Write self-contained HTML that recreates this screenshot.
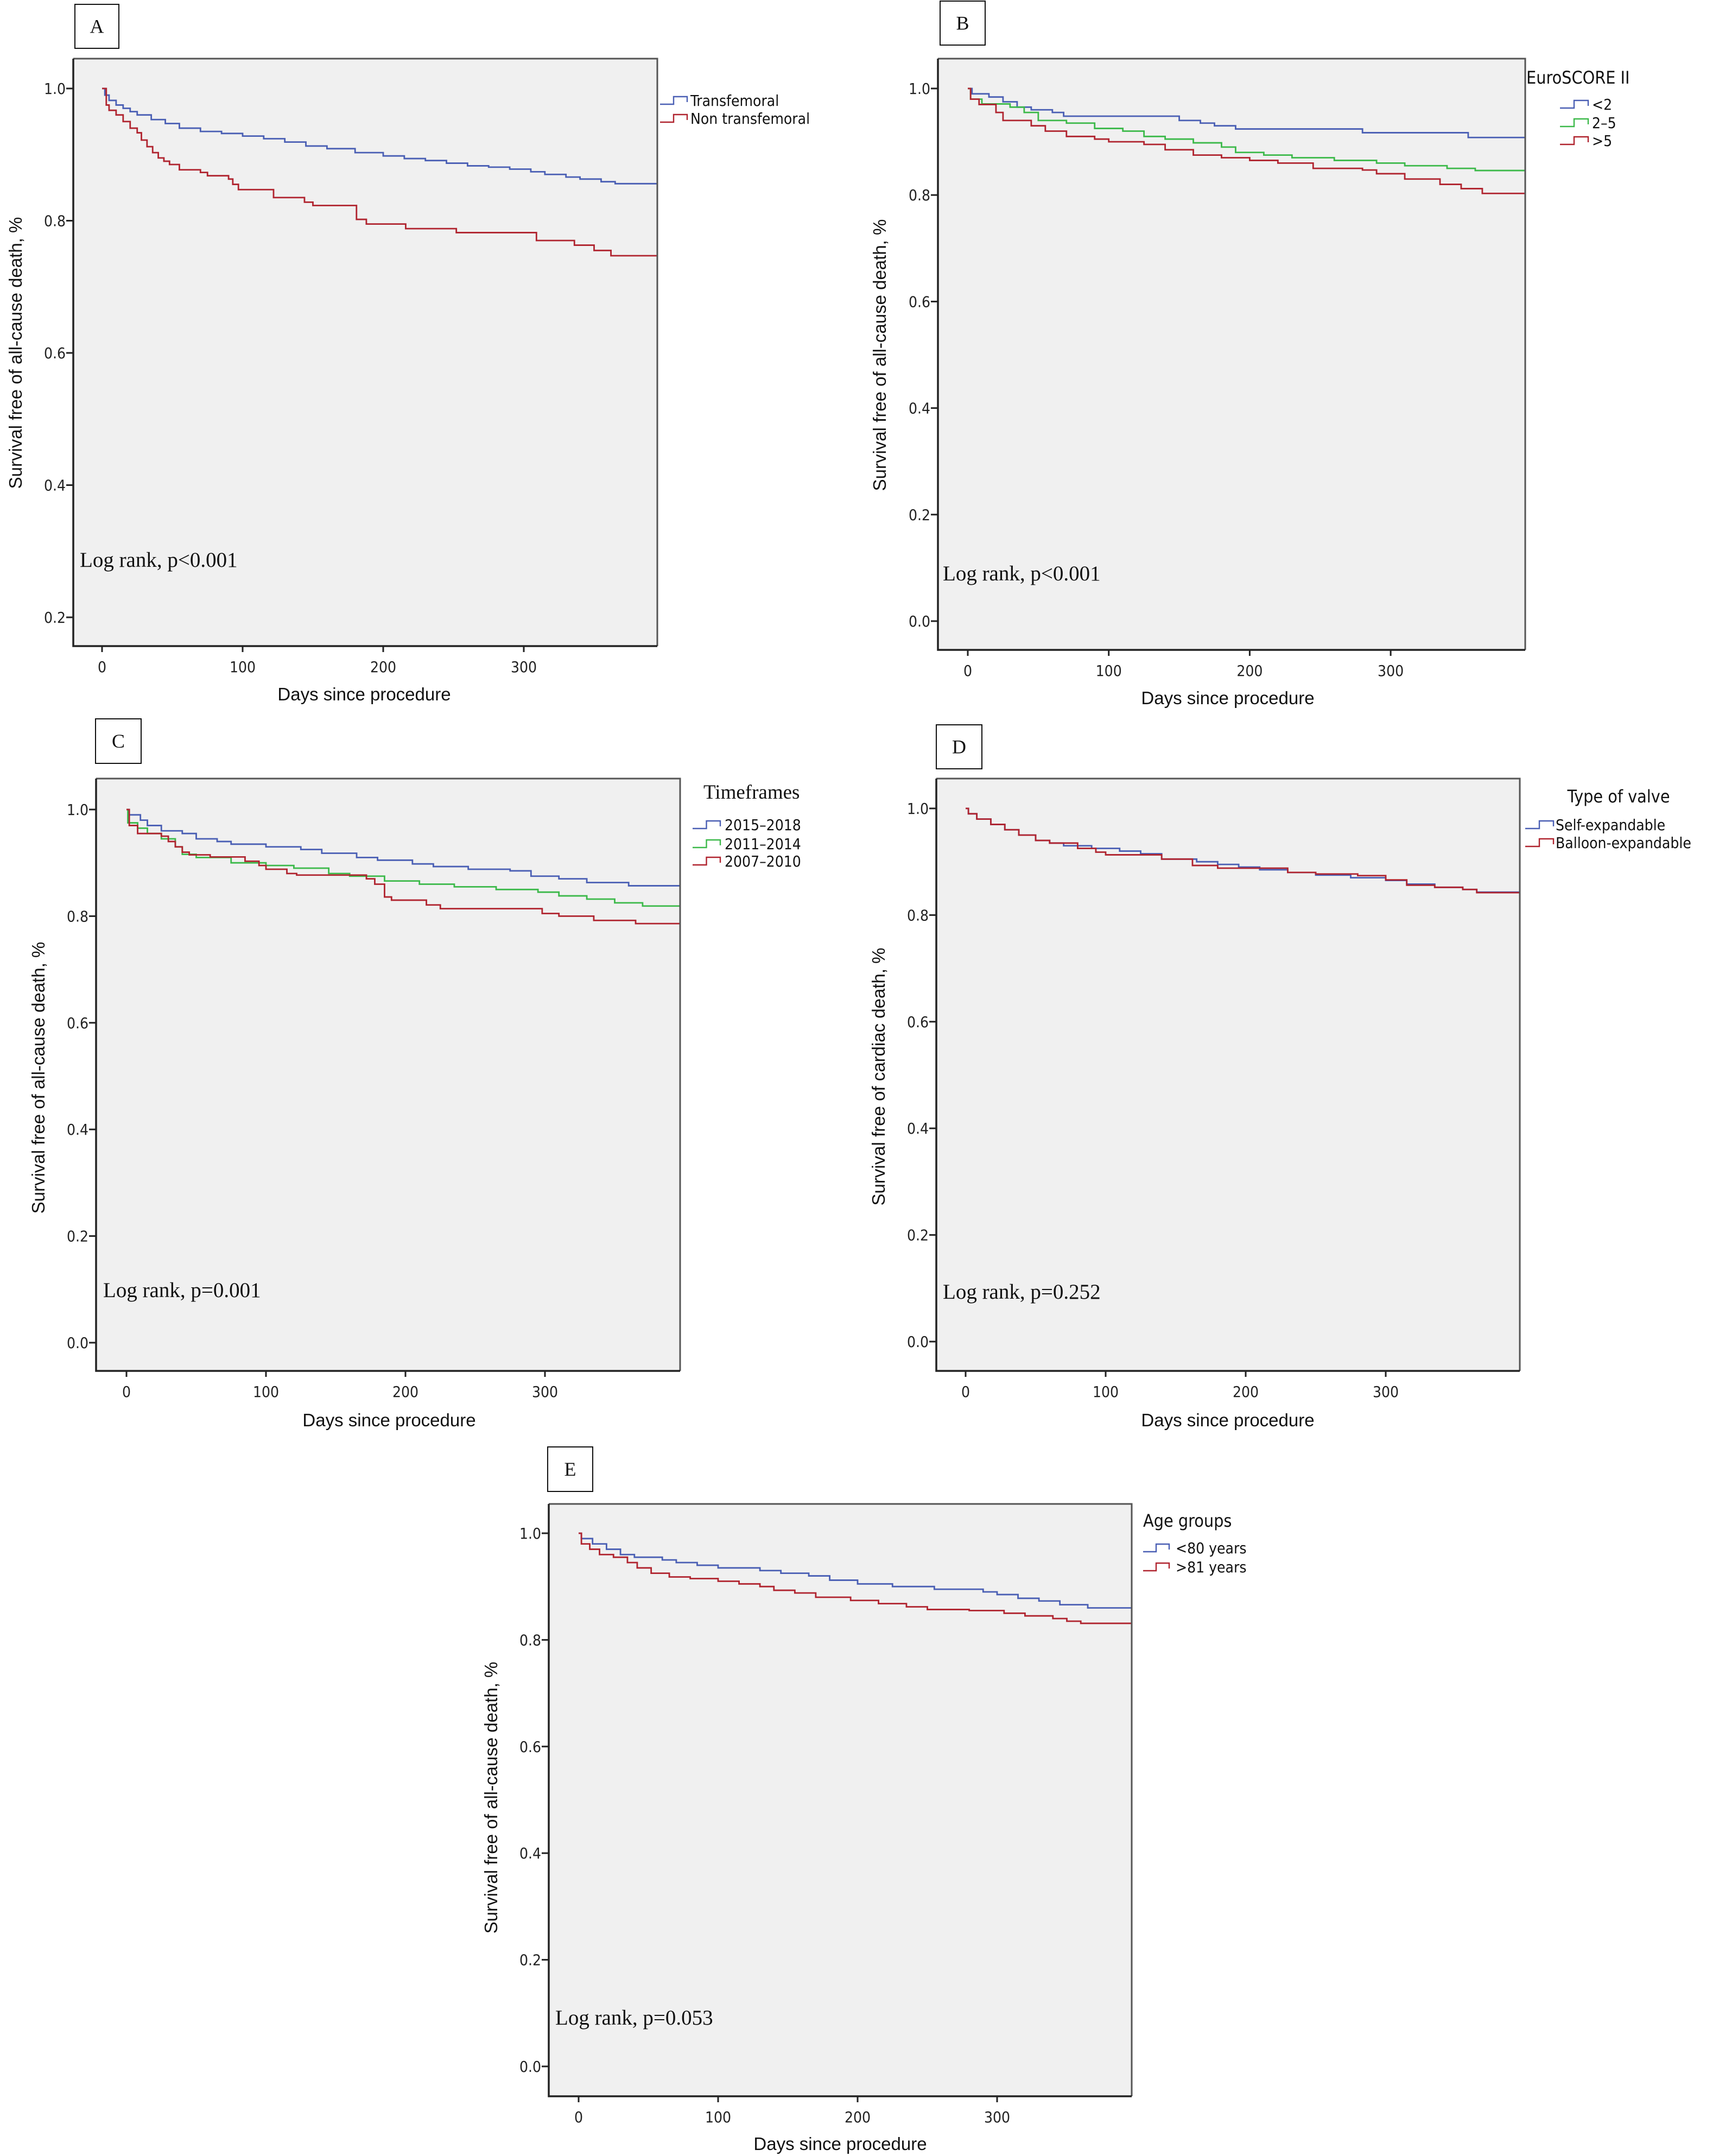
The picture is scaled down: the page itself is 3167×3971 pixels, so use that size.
<!DOCTYPE html>
<html><head><meta charset="utf-8"><style>
html,body{margin:0;padding:0;background:#fff;}
svg{display:block;}
.tick{font-family:"DejaVu Sans Condensed","DejaVu Sans",sans-serif;font-size:28px;fill:#222;}
.ax{font-family:"Liberation Sans",Arial,sans-serif;font-size:33px;fill:#111;}
.lr{font-family:"Liberation Serif",serif;font-size:39px;fill:#111;}
.lg{font-family:"DejaVu Sans Condensed","DejaVu Sans",sans-serif;font-size:28px;fill:#111;}
.lgt{font-family:"DejaVu Sans Condensed","DejaVu Sans",sans-serif;font-size:32px;fill:#111;}
.lab{font-family:"Liberation Serif",serif;font-size:36px;fill:#111;}
</style></head><body>
<svg id="fig" xmlns="http://www.w3.org/2000/svg" width="3167" height="3971" viewBox="0 0 3167 3971"></svg>
<script>
// ---- Data (days, survival) ----
const aTfDays=[0,2,5,10,15,20,25,35,45,55,70,85,100,115,130,145,160,180,200,215,230,245,260,275,290,305,315,330,340,355,365];
const aTfSurv=[1,0.99,0.982,0.975,0.97,0.965,0.96,0.953,0.947,0.94,0.935,0.932,0.928,0.924,0.919,0.913,0.909,0.903,0.898,0.894,0.891,0.887,0.883,0.881,0.878,0.874,0.870,0.866,0.863,0.859,0.856];
const aNtDays=[0,3,5,10,15,20,25,28,32,36,40,44,48,55,70,75,90,93,97,122,144,150,181,188,216,252,309,336,350,362];
const aNtSurv=[1,0.975,0.967,0.96,0.95,0.94,0.933,0.922,0.912,0.903,0.895,0.89,0.885,0.877,0.873,0.868,0.863,0.855,0.847,0.835,0.828,0.823,0.802,0.795,0.788,0.782,0.770,0.763,0.755,0.747];
const bLowDays=[0,3,15,25,35,45,60,68,150,165,175,190,280,355];
const bLowSurv=[1,0.99,0.984,0.975,0.965,0.96,0.955,0.948,0.94,0.935,0.93,0.924,0.917,0.908];
const bMidDays=[0,2,10,30,40,50,70,90,110,125,140,160,180,190,210,230,260,290,310,340,360];
const bMidSurv=[1,0.98,0.971,0.965,0.955,0.94,0.935,0.925,0.92,0.91,0.905,0.898,0.89,0.88,0.875,0.87,0.865,0.86,0.855,0.85,0.846];
const bHighDays=[0,2,8,20,25,45,55,70,90,100,125,140,160,180,200,220,245,280,290,310,335,350,365];
const bHighSurv=[1,0.98,0.97,0.955,0.94,0.93,0.92,0.91,0.905,0.9,0.895,0.885,0.875,0.87,0.865,0.86,0.85,0.847,0.84,0.83,0.82,0.812,0.803];
const cNewDays=[0,2,10,15,25,40,50,65,75,100,125,140,165,180,205,220,245,275,290,310,330,360];
const cNewSurv=[1,0.99,0.98,0.97,0.96,0.955,0.945,0.94,0.935,0.93,0.925,0.918,0.91,0.905,0.898,0.893,0.888,0.885,0.875,0.87,0.863,0.857];
const cMidDays=[0,1,8,15,25,35,40,50,75,100,120,145,160,185,210,235,265,295,310,330,350,370];
const cMidSurv=[1,0.975,0.965,0.955,0.945,0.93,0.916,0.91,0.9,0.895,0.89,0.88,0.875,0.866,0.86,0.855,0.85,0.845,0.838,0.832,0.825,0.819];
const cOldDays=[0,2,8,25,30,35,40,45,60,85,95,100,115,122,172,178,185,190,215,225,298,310,335,365];
const cOldSurv=[1,0.97,0.955,0.95,0.94,0.93,0.92,0.915,0.911,0.903,0.895,0.888,0.88,0.877,0.87,0.86,0.836,0.83,0.821,0.814,0.805,0.8,0.792,0.786];
const dSelfDays=[0,2,8,18,28,38,50,60,70,90,110,125,140,165,180,195,210,230,250,275,300,315,335,355,365];
const dSelfSurv=[1,0.99,0.98,0.97,0.96,0.95,0.94,0.935,0.93,0.925,0.92,0.915,0.905,0.9,0.895,0.89,0.885,0.88,0.875,0.87,0.865,0.858,0.852,0.848,0.843];
const dBallDays=[0,2,8,18,28,38,50,60,80,93,100,140,162,180,230,250,280,300,315,335,355,365];
const dBallSurv=[1,0.99,0.98,0.97,0.96,0.95,0.94,0.935,0.925,0.918,0.913,0.905,0.893,0.888,0.88,0.877,0.874,0.866,0.856,0.852,0.848,0.842];
const eYoungDays=[0,2,10,20,30,40,60,70,85,100,130,145,165,180,200,225,255,290,300,315,330,345,365];
const eYoungSurv=[1,0.99,0.98,0.97,0.96,0.955,0.95,0.945,0.94,0.935,0.93,0.925,0.92,0.912,0.905,0.9,0.895,0.89,0.885,0.878,0.873,0.866,0.86];
const eOldDays=[0,2,8,15,25,35,42,52,65,80,100,115,130,140,155,170,195,215,235,250,280,305,320,340,350,360];
const eOldSurv=[1,0.98,0.97,0.96,0.955,0.945,0.935,0.925,0.918,0.915,0.91,0.905,0.9,0.893,0.888,0.88,0.874,0.868,0.862,0.857,0.855,0.85,0.845,0.84,0.835,0.831];
const xTicks=[0,100,200,300];
const yTicksA=[0.2,0.4,0.6,0.8,1.0];
const yTicksFull=[0.0,0.2,0.4,0.6,0.8,1.0];

const BLUE="#4a5fb4", GREEN="#3cb94a", RED="#b0242f";
const NS="http://www.w3.org/2000/svg";
const svg=document.getElementById('fig');
function mk(tag,attrs,parent,text){const e=document.createElementNS(NS,tag);for(const k in attrs)e.setAttribute(k,attrs[k]);if(text!==undefined)e.textContent=text;(parent||svg).appendChild(e);return e;}

function panel(c){
  const g=mk('g',{});
  
  
  const X=d=>c.tx0+d*c.tpx/100, Y=v=>c.yv1+(1-v)*c.ypu;
  const bg=mk('rect',{x:c.bx0,y:c.by0,width:c.bx1-c.bx0,height:c.by1-c.by0,fill:'#f0f0f0',stroke:'none'},g);
  
  
  c.series.forEach(s=>{
    let d='M'+X(0)+','+Y(1);
    for(let i=1;i<s.days.length;i++){d+=' H'+X(s.days[i])+' V'+Y(s.surv[i]);}
    d+=' H'+(c.bx1-1);
    const p=mk('path',{d:d,fill:'none',stroke:s.color,'stroke-width':2.8},g);
    
    
  });
  mk('path',{d:`M${c.bx0},${c.by0} H${c.bx1} V${c.by1}`,fill:'none',stroke:'#555','stroke-width':3},g);
  mk('path',{d:`M${c.bx0},${c.by0} V${c.by1} H${c.bx1}`,fill:'none',stroke:'#222','stroke-width':3.5},g);
  c.yticks.forEach(v=>{
    mk('line',{x1:c.bx0-13,x2:c.bx0,y1:Y(v),y2:Y(v),stroke:'#222','stroke-width':3},g);
    const t=mk('text',{x:c.bx0-14,y:Y(v)+10,'text-anchor':'end',class:'tick'},g,v.toFixed(1));
    
    
  });
  xTicks.forEach(d=>{
    mk('line',{x1:X(d),x2:X(d),y1:c.by1,y2:c.by1+11,stroke:'#222','stroke-width':3},g);
    const t=mk('text',{x:X(d),y:c.by1+48,'text-anchor':'middle',class:'tick'},g,String(d));
    
    
  });
  const yt=mk('text',{x:c.ytx,y:c.yty,'text-anchor':'middle',class:'ax',transform:`rotate(-90 ${c.ytx} ${c.yty})`},g,c.ytitle);
  
  
  const xt=mk('text',{x:c.xtx,y:c.xty,'text-anchor':'middle',class:'ax'},g,'Days since procedure');
  
  
  const lr=mk('text',{x:c.lrx,y:c.lry+13,class:'lr'},g,c.lrText);
  
  
  mk('rect',{x:c.lbx0,y:c.lby0,width:c.lbx1-c.lbx0,height:c.lby1-c.lby0,fill:'#fff',stroke:'#111','stroke-width':2},g);
  const lb=mk('text',{x:(c.lbx0+c.lbx1)/2,y:(c.lby0+c.lby1)/2+12,'text-anchor':'middle',class:'lab'},g,c.id);
  
  
  if(c.lgTitle){
    const lt=mk('text',{x:c.lgTx,y:c.lgTy+11,'text-anchor':c.lgAnchor||'start',class:'lgt',style:c.lgTitleStyle||''},g,c.lgTitle);
    
    
  }
  c.series.forEach((s,i)=>{
    const y=c.lgY[i], x0=c.lgSx0, x1=c.lgSx1, xm=(x0+x1)/2;
    const sym=mk('path',{d:`M${x0},${y+7} H${xm} V${y-7} H${x1} V${y+3}`,fill:'none',stroke:s.color,'stroke-width':2.4},g);
    
    
    const t=mk('text',{x:c.lgTextX,y:y+10,class:'lg'},g,s.name);
    
    
  });
}

panel({id:'A',bx0:135,by0:108,bx1:1211,by1:1190,tx0:188,tpx:259,yv1:163,ypu:1217.5,yticks:yTicksA,
  ytitle:'Survival free of all-cause death, %',ytx:40,yty:650,xtx:671,xty:1290,
  lrText:'Log rank, p<0.001',lrx:147,lry:1031,lbx0:138,lby0:8,lbx1:219,lby1:89,
  lgY:[185,218],lgSx0:1216,lgSx1:1266,lgTextX:1272,
  series:[{key:'transfemoral',name:'Transfemoral',color:BLUE,days:aTfDays,surv:aTfSurv},
          {key:'non-transfemoral',name:'Non transfemoral',color:RED,days:aNtDays,surv:aNtSurv}]});
panel({id:'B',bx0:1728,by0:108,bx1:2810,by1:1197,tx0:1783,tpx:259.7,yv1:163,ypu:981,yticks:yTicksFull,
  ytitle:'Survival free of all-cause death, %',ytx:1632,yty:654,xtx:2262,xty:1297,
  lrText:'Log rank, p<0.001',lrx:1737,lry:1056,lbx0:1732,lby0:2,lbx1:1815,lby1:83,
  lgTitle:'EuroSCORE II',lgTx:2812,lgTy:143,
  lgY:[192,226,259],lgSx0:2874,lgSx1:2926,lgTextX:2933,
  series:[{key:'euroscore-lt2',name:'<2',color:BLUE,days:bLowDays,surv:bLowSurv},
          {key:'euroscore-2-5',name:'2–5',color:GREEN,days:bMidDays,surv:bMidSurv},
          {key:'euroscore-gt5',name:'>5',color:RED,days:bHighDays,surv:bHighSurv}]});
panel({id:'C',bx0:177,by0:1434,bx1:1253,by1:2525,tx0:233,tpx:257,yv1:1491,ypu:982,yticks:yTicksFull,
  ytitle:'Survival free of all-cause death, %',ytx:82,yty:1985,xtx:717,xty:2627,
  lrText:'Log rank, p=0.001',lrx:190,lry:2376,lbx0:176,lby0:1324,lbx1:260,lby1:1406,
  lgTitle:'Timeframes',lgTx:1296,lgTy:1460,lgTitleStyle:'font-family:"Liberation Serif",serif;font-size:37px',
  lgY:[1519,1554,1586],lgSx0:1276,lgSx1:1327,lgTextX:1335,
  series:[{key:'2015-2018',name:'2015–2018',color:BLUE,days:cNewDays,surv:cNewSurv},
          {key:'2011-2014',name:'2011–2014',color:GREEN,days:cMidDays,surv:cMidSurv},
          {key:'2007-2010',name:'2007–2010',color:RED,days:cOldDays,surv:cOldSurv}]});
panel({id:'D',bx0:1725,by0:1434,bx1:2800,by1:2525,tx0:1779,tpx:258,yv1:1489,ypu:982,yticks:yTicksFull,
  ytitle:'Survival free of cardiac death, %',ytx:1630,yty:1983,xtx:2262,xty:2627,
  lrText:'Log rank, p=0.252',lrx:1737,lry:2379,lbx0:1725,lby0:1335,lbx1:1809,lby1:1416,
  lgTitle:'Type of valve',lgTx:2982,lgTy:1467,lgAnchor:'middle',
  lgY:[1519,1552],lgSx0:2810,lgSx1:2862,lgTextX:2866,
  series:[{key:'self-expandable',name:'Self-expandable',color:BLUE,days:dSelfDays,surv:dSelfSurv},
          {key:'balloon-expandable',name:'Balloon-expandable',color:RED,days:dBallDays,surv:dBallSurv}]});
panel({id:'E',bx0:1011,by0:2770,bx1:2085,by1:3861,tx0:1066,tpx:257,yv1:2824,ypu:982,yticks:yTicksFull,
  ytitle:'Survival free of all-cause death, %',ytx:916,yty:3311,xtx:1548,xty:3960,
  lrText:'Log rank, p=0.053',lrx:1023,lry:3716,lbx0:1009,lby0:2665,lbx1:1092,lby1:2747,
  lgTitle:'Age groups',lgTx:2106,lgTy:2801,
  lgY:[2851,2886],lgSx0:2106,lgSx1:2154,lgTextX:2166,
  series:[{key:'under-80',name:'<80 years',color:BLUE,days:eYoungDays,surv:eYoungSurv},
          {key:'over-81',name:'>81 years',color:RED,days:eOldDays,surv:eOldSurv}]});
</script>
</body></html>
